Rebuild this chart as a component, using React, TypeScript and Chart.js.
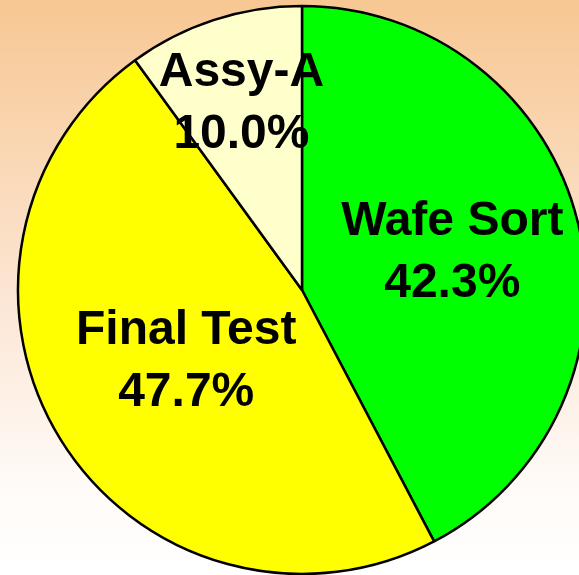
import React, { useEffect, useRef } from "react";
import { Chart, registerables } from "chart.js";

Chart.register(...registerables);

const categories = ["Wafe Sort", "Final Test", "Assy-A"];
const values = [42.3, 47.7, 10.0];
const percentLabels = ["42.3%", "47.7%", "10.0%"];
const sliceColors = ["#00FF00", "#FFFF00", "#FFFFCC"];

const labelRadiusFactors = [0.545, 0.48, 0.69];

const bgPlugin = {
  id: "bgGradient",
  beforeDraw(chart: any) {
    const { ctx, width, height } = chart;
    const g = ctx.createLinearGradient(0, 0, 0, height);
    g.addColorStop(0, "#F7C793");
    g.addColorStop(0.55, "#FCE8D8");
    g.addColorStop(0.85, "#FFFBF8");
    g.addColorStop(1, "#FFFFFF");
    ctx.save();
    ctx.fillStyle = g;
    ctx.fillRect(0, 0, width, height);
    ctx.restore();
  },
};

const labelPlugin = {
  id: "sliceLabels",
  afterDatasetsDraw(chart: any) {
    const { ctx } = chart;
    const meta = chart.getDatasetMeta(0);
    ctx.save();
    ctx.font = "bold 48px 'Liberation Sans', Arial, sans-serif";
    ctx.fillStyle = "#000000";
    ctx.textAlign = "center";
    ctx.textBaseline = "middle";
    meta.data.forEach((arc: any, i: number) => {
      const p = arc.getProps(["x", "y", "startAngle", "endAngle", "outerRadius"], true);
      const mid = (p.startAngle + p.endAngle) / 2;
      const r = p.outerRadius * labelRadiusFactors[i];
      const cx = p.x + Math.cos(mid) * r;
      const cy = p.y + Math.sin(mid) * r;
      ctx.fillText(categories[i], cx, cy - 31);
      ctx.fillText(percentLabels[i], cx, cy + 31);
    });
    ctx.restore();
  },
};

export default function App() {
  const ref = useRef<HTMLCanvasElement | null>(null);
  useEffect(() => {
    if (!ref.current) return;
    const chart = new Chart(ref.current, {
      type: "pie",
      data: {
        labels: categories,
        datasets: [
          {
            data: values,
            backgroundColor: sliceColors,
            borderColor: "#000000",
            borderWidth: 2.5,
            clip: false as any,
          } as any,
        ],
      },
      options: {
        animation: false,
        responsive: false,
        radius: 284,
        layout: { padding: { left: 25, top: 5, right: 0, bottom: 0 } },
        plugins: {
          legend: { display: false },
          tooltip: { enabled: false },
        },
      } as any,
      plugins: [bgPlugin, labelPlugin],
    });
    return () => chart.destroy();
  }, []);
  return (
    <div style={{ position: "fixed", left: 0, top: 0, width: 579, height: 575, overflow: "hidden" }}>
      <canvas ref={ref} width={579} height={575} style={{ display: "block", width: 579, height: 575 }} />
    </div>
  );
}
